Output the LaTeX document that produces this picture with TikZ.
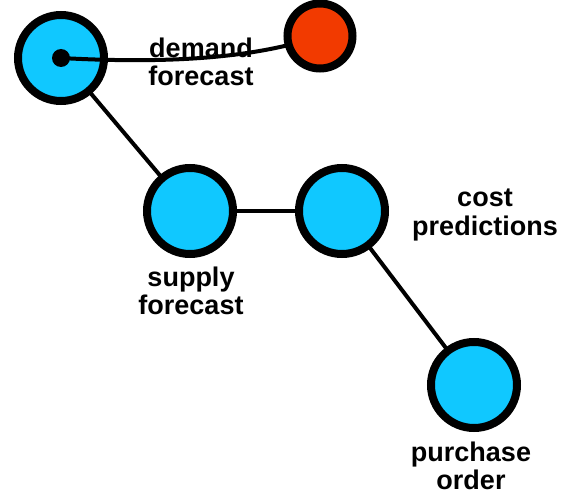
\documentclass[tikz,border=0pt]{standalone}
\usepackage{fontspec}
\setmainfont{Liberation Sans}
\definecolor{nodeblue}{HTML}{10C8FF}
\definecolor{nodered}{HTML}{F23A00}
\begin{document}
\begin{tikzpicture}[x=1pt,y=-1pt,
  bluenode/.style={circle, draw=black, line width=8pt, fill=nodeblue, minimum size=86pt, inner sep=0pt},
  rednode/.style={circle, draw=black, line width=8pt, fill=nodered, minimum size=65pt, inner sep=0pt},
  link/.style={draw=black, line width=4pt},
  lbl/.style={font=\bfseries\fontsize{27}{28.5}\selectfont, align=center, inner sep=0pt}]
\useasboundingbox (0,0) rectangle (574,500);

% links between the round nodes (drawn first, circles sit on top)
\coordinate (pa) at (61,58);
\coordinate (pc) at (190,211);
\coordinate (pd) at (342,211);
\coordinate (pe) at (474,385);
\draw[link] (pa) -- (pc);
\draw[link] (pc) -- (pd);
\draw[link] (pd) -- (pe);

% nodes
\node[bluenode] (a) at (pa) {};
\node[bluenode] (c) at (pc) {};
\node[bluenode] (d) at (pd) {};
\node[bluenode] (e) at (pe) {};

% curved link from the centre dot of a to the red node
\coordinate (pb) at (320,36);
\draw[link] (a.center) .. controls (170,64) and (255,58) .. (pb);
\node[rednode] (b) at (pb) {};
\node[circle, fill=black, minimum size=18pt, inner sep=0pt] (dot) at (a.center) {};

% labels
\node[lbl] (la) at (201,62) {demand\\forecast};
\node[lbl] (lc) at (191,291) {supply\\forecast};
\node[lbl] (ld) at (485,215) {cost\\predictions};
\node[lbl] (le) at (471,466) {purchase\\order};
\end{tikzpicture}
\end{document}
